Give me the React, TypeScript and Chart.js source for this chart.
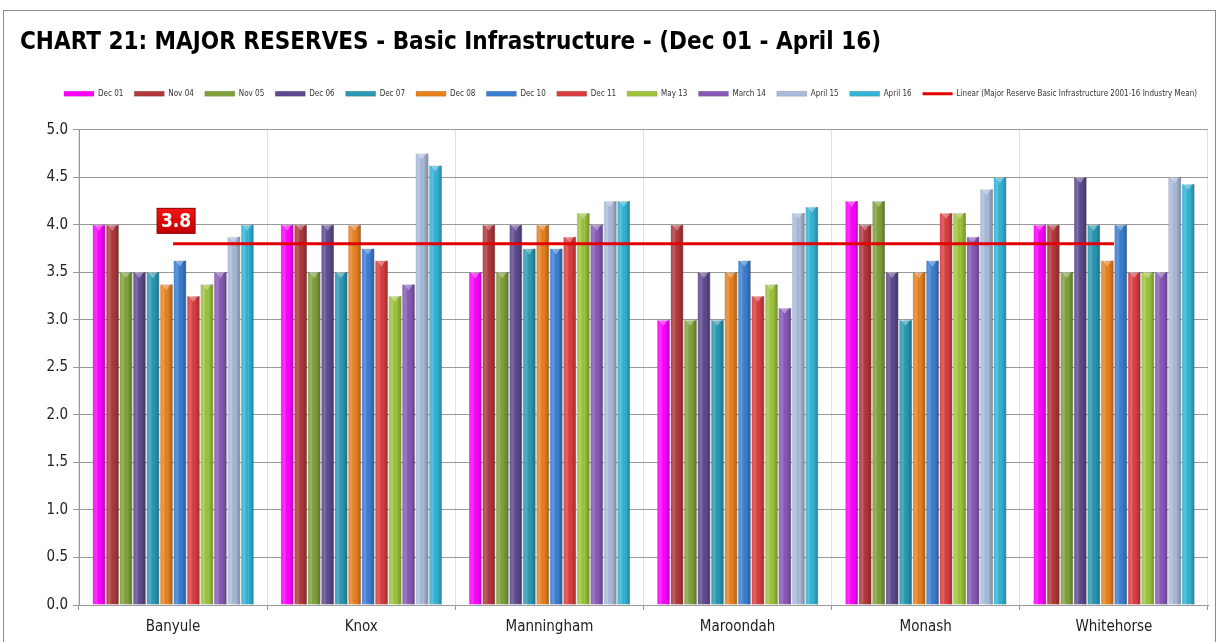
import React, { useEffect, useRef } from "react";
import { Chart, registerables } from "chart.js";

Chart.register(...registerables);

const categories = ["Banyule", "Knox", "Manningham", "Maroondah", "Monash", "Whitehorse"];
const seriesLabels = ["Dec 01", "Nov 04", "Nov 05", "Dec 06", "Dec 07", "Dec 08", "Dec 10", "Dec 11", "May 13", "March 14", "April 15", "April 16"];
const seriesColors = ["#FF00FF", "#B0373A", "#7FA03A", "#5E4A8E", "#2A98B4", "#E8801E", "#3A7ED2", "#DA3D3F", "#9DC43C", "#8759B6", "#A8BBDA", "#33B3D6"];

const dec01 = [4.0, 4.0, 3.5, 3.0, 4.25, 4.0];
const nov04 = [4.0, 4.0, 4.0, 4.0, 4.0, 4.0];
const nov05 = [3.5, 3.5, 3.5, 3.0, 4.25, 3.5];
const dec06 = [3.5, 4.0, 4.0, 3.5, 3.5, 4.5];
const dec07 = [3.5, 3.5, 3.75, 3.0, 3.0, 4.0];
const dec08 = [3.375, 4.0, 4.0, 3.5, 3.5, 3.625];
const dec10 = [3.625, 3.75, 3.75, 3.625, 3.625, 4.0];
const dec11 = [3.25, 3.625, 3.875, 3.25, 4.125, 3.5];
const may13 = [3.375, 3.25, 4.125, 3.375, 4.125, 3.5];
const march14 = [3.5, 3.375, 4.0, 3.125, 3.875, 3.5];
const april15 = [3.875, 4.75, 4.25, 4.125, 4.375, 4.5];
const april16 = [4.0, 4.625, 4.25, 4.19, 4.5, 4.43];
const industryMean = [3.8, 3.8, 3.8, 3.8, 3.8, 3.8];
const trendLabel = "Linear (Major Reserve Basic Infrastructure 2001-16 Industry Mean)";
const yTicks = [0, 0.5, 1, 1.5, 2, 2.5, 3, 3.5, 4, 4.5, 5];

const seriesValues = [dec01, nov04, nov05, dec06, dec07, dec08, dec10, dec11, may13, march14, april15, april16];

const FONT = "'Liberation Sans Narrow', 'DejaVu Sans Condensed', 'Open Sans', sans-serif";

const bevelPlugin = {
  id: "bevel",
  afterDatasetDraw(chart: any, args: any) {
    const ds = chart.data.datasets[args.index];
    if (ds.type === "line") return;
    const ctx = chart.ctx;
    const meta = args.meta;
    ctx.save();
    meta.data.forEach((el: any) => {
      const w = el.width;
      const left = el.x - w / 2;
      const top = el.y;
      const h = el.base - el.y;
      const g = ctx.createLinearGradient(left, 0, left + w, 0);
      g.addColorStop(0, "rgba(255,255,255,0.05)");
      g.addColorStop(0.3, "rgba(255,255,255,0.2)");
      g.addColorStop(0.6, "rgba(0,0,0,0)");
      g.addColorStop(1, "rgba(0,0,0,0.28)");
      ctx.fillStyle = g;
      ctx.fillRect(left, top, w, h);
      ctx.fillStyle = "rgba(255,255,255,0.35)";
      ctx.beginPath();
      ctx.moveTo(left + 2, top);
      ctx.lineTo(left + w - 2, top);
      ctx.lineTo(el.x, top + 6);
      ctx.closePath();
      ctx.fill();
    });
    ctx.restore();
  },
};

const legendSpacer = {
  id: "legendSpacer",
  beforeInit(chart: any) {
    const legend = chart.legend;
    if (!legend) return;
    const orig = legend.fit;
    legend.fit = function () {
      orig.call(this);
      this.height += 22;
    };
  },
};

const meanLabelPlugin = {
  id: "meanLabel",
  afterDatasetsDraw(chart: any) {
    const idx = chart.data.datasets.findIndex((d: any) => d.type === "line");
    if (idx < 0) return;
    const meta = chart.getDatasetMeta(idx);
    const pt = meta.data[0];
    const val = chart.data.datasets[idx].data[0];
    const ctx = chart.ctx;
    const bw = 38, bh = 25;
    const cx = pt.x + 3, cy = pt.y - 23;
    ctx.save();
    const g = ctx.createLinearGradient(0, cy - bh / 2, 0, cy + bh / 2);
    g.addColorStop(0, "#F41414");
    g.addColorStop(1, "#C00000");
    ctx.fillStyle = g;
    ctx.fillRect(cx - bw / 2, cy - bh / 2, bw, bh);
    ctx.strokeStyle = "#8a0000";
    ctx.lineWidth = 1;
    ctx.strokeRect(cx - bw / 2, cy - bh / 2, bw, bh);
    ctx.fillStyle = "#FFFFFF";
    ctx.font = "bold 19px " + FONT;
    ctx.textAlign = "center";
    ctx.textBaseline = "middle";
    ctx.fillText(Number(val).toFixed(1), cx, cy + 1);
    ctx.restore();
  },
};

export default function App() {
  const ref = useRef<HTMLCanvasElement | null>(null);

  useEffect(() => {
    document.body.style.margin = "0";
    if (!ref.current) return;
    const datasets: any[] = seriesLabels.map((label, i) => ({
      type: "bar",
      label,
      data: seriesValues[i],
      backgroundColor: seriesColors[i],
      borderColor: "rgba(0,0,0,0.25)",
      borderWidth: 0.5,
      pointStyle: "rect",
      order: 1,
      categoryPercentage: 0.86,
      barPercentage: 0.96,
    }));
    datasets.push({
      type: "line",
      label: trendLabel,
      data: industryMean,
      borderColor: "#E00000",
      backgroundColor: "#E00000",
      borderWidth: 3,
      pointRadius: 0,
      pointStyle: "line",
      order: 0,
    });
    const chart = new Chart(ref.current, {
      type: "bar",
      data: { labels: categories, datasets },
      options: {
        animation: false,
        responsive: false,
        layout: { padding: { left: 20, right: 11, top: 28, bottom: -2 } },
        plugins: {
          title: {
            display: true,
            text: "CHART 21: MAJOR RESERVES - Basic Infrastructure - (Dec 01 - April 16)",
            align: "start",
            color: "#000",
            font: { family: FONT, size: 24, weight: "bold" },
            padding: { top: 0, bottom: 22 },
          },
          legend: {
            display: true,
            align: "end",
            labels: {
              usePointStyle: true,
              pointStyleWidth: 30,
              boxWidth: 30,
              boxHeight: 5,
              padding: 11,
              color: "#333",
              font: { family: FONT, size: 8 },
              sort: (a: any, b: any) => a.datasetIndex - b.datasetIndex,
            },
          },
          tooltip: { enabled: false },
        },
        scales: {
          x: {
            offset: true,
            grid: { display: true, offset: true, color: "#e2e2e2", drawTicks: true, tickLength: 5, tickColor: "#999" },
            border: { color: "#999" },
            ticks: { color: "#222", font: { family: FONT, size: 15 }, padding: 8 },
          },
          y: {
            min: 0,
            max: 5,
            afterBuildTicks: (axis: any) => {
              axis.ticks = yTicks.map((v) => ({ value: v }));
            },
            afterFit: (axis: any) => {
              axis.width = 59;
            },
            grid: { color: "#9a9a9a", drawTicks: true, tickLength: 6 },
            border: { color: "#999" },
            ticks: {
              color: "#222",
              font: { family: FONT, size: 15 },
              padding: 5,
              callback: (v: any) => Number(v).toFixed(1),
            },
          },
        },
      } as any,
      plugins: [legendSpacer, bevelPlugin, meanLabelPlugin],
    });
    return () => chart.destroy();
  }, []);

  return (
    <div style={{ position: "relative", width: 1219, height: 642, background: "#fff" }}>
      <canvas ref={ref} width={1219} height={642} style={{ position: "absolute", left: 0, top: 0 }} />
      <div
        style={{
          position: "absolute",
          left: 3,
          top: 10,
          width: 1211,
          height: 640,
          border: "1px solid #8c8c8c",
          pointerEvents: "none",
        }}
      />
    </div>
  );
}
